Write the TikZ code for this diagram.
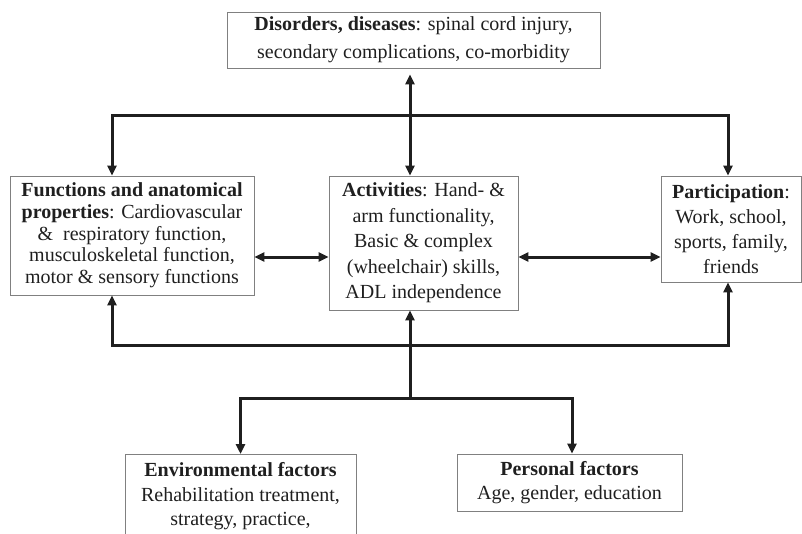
\documentclass[tikz,border=0pt]{standalone}
\usepackage{fontspec}
\setmainfont{Liberation Serif}
\usepackage{tikz}
\usetikzlibrary{arrows.meta,positioning}

\begin{document}
\begin{tikzpicture}[
			x=1pt, y=-1pt,
			every node/.style={text=black!88},
			box/.style={draw=black!50, line width=0.9pt, align=center, inner sep=0pt,
				font=\fontsize{20}{24.5}\selectfont},
			link/.style={line width=3pt, draw=black!88,
				>={Triangle[length=10pt,width=9pt]}}
			]

				\useasboundingbox (0,0) rectangle (802,533);

				\node[box, minimum width=373pt, minimum height=56pt, font=\fontsize{20}{28}\selectfont] (dis) at (413.5,40)
					{\textbf{Disorders, diseases}: spinal cord injury,\\ secondary complications, co-morbidity};
				\node[box, minimum width=244pt, minimum height=119pt, font=\fontsize{20}{21.7}\selectfont] (func) at (132,235.5)
					{\textbf{Functions and anatomical}\\ \textbf{properties}: Cardiovascular\\ \& \ respiratory function,\\ musculoskeletal function,\\ motor \& sensory functions};
				\node[box, minimum width=189pt, minimum height=134pt, font=\fontsize{20}{25.5}\selectfont] (act) at (423.5,243)
					{\textbf{Activities}: Hand- \&\\ arm functionality,\\ Basic \& complex\\ (wheelchair) skills,\\ ADL independence};
				\node[box, minimum width=140pt, minimum height=106pt, font=\fontsize{20}{25}\selectfont] (part) at (731,229)
					{\textbf{Participation}:\\ Work, school,\\ sports, family,\\ friends};
				\node[box, anchor=north, minimum width=231pt, minimum height=84pt] (env) at (240.5,454)
					{\textbf{Environmental factors}\\ Rehabilitation treatment,\\ strategy, practice,};
				\node[box, minimum width=225pt, minimum height=57pt, font=\fontsize{20}{24}\selectfont] (pers) at (569.5,482.5)
					{\textbf{Personal factors}\\ Age, gender, education};

				\coordinate (split) at (410,398);

				\draw[link,<->,shorten <=6pt] (410,0 |- dis.south) -- (410,0 |- act.north);
				\draw[link,<->] (112,0 |- func.north) |- (728,115) -- (728,0 |- part.north);
				\draw[link,<->] (func.east |- 0,257) -- (act.west |- 0,257);
				\draw[link,<->] (act.east |- 0,257) -- (part.west |- 0,257);
				\draw[link,<->] (112,0 |- func.south) |- (728,345) -- (728,0 |- part.south);
				\draw[link,->] (split) -- (410,0 |- act.south);
				\draw[link,<->] (env.north) |- (572,0 |- split) -- (572,0 |- pers.north);

			\end{tikzpicture}
\end{document}
